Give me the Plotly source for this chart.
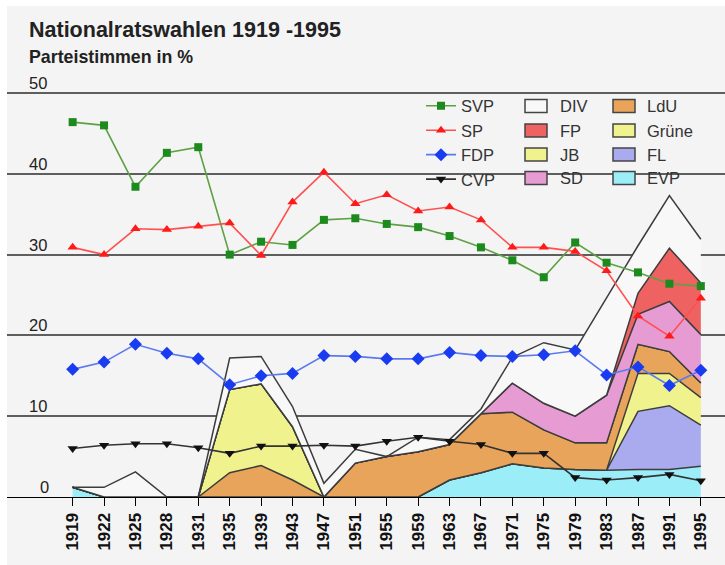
import plotly.graph_objects as go

# ---------------- data ----------------
years = ["1919", "1922", "1925", "1928", "1931", "1935", "1939", "1943", "1947", "1951",
         "1955", "1959", "1963", "1967", "1971", "1975", "1979", "1983", "1987", "1991", "1995"]

svp = [46.4, 46.0, 38.4, 42.6, 43.3, 30.0, 31.6, 31.2, 34.3, 34.5, 33.8, 33.4, 32.3, 30.9,
       29.3, 27.2, 31.5, 29.0, 27.8, 26.4, 26.1]
sp = [30.9, 30.0, 33.2, 33.1, 33.5, 33.9, 29.9, 36.5, 40.2, 36.3, 37.4, 35.4, 35.9, 34.3,
      30.9, 30.9, 30.4, 28.0, 22.4, 19.9, 24.6]
fdp = [15.8, 16.7, 18.9, 17.8, 17.1, 13.9, 15.0, 15.3, 17.5, 17.4, 17.1, 17.1, 17.9, 17.5,
       17.4, 17.6, 18.1, 15.1, 16.1, 13.8, 15.7]
cvp = [6.0, 6.4, 6.6, 6.6, 6.1, 5.4, 6.3, 6.3, 6.4, 6.3, 6.9, 7.4, 6.9, 6.5,
       5.4, 5.4, 2.4, 2.1, 2.4, 2.8, 2.0]

# stacked areas (bottom to top)
evp = [1.2, 0, 0, 0, 0, 0, 0, 0, 0, 0, 0, 0, 2.1, 3.0, 4.1, 3.6, 3.4, 3.3, 3.4, 3.4, 3.8]
fl = [0, 0, 0, 0, 0, 0, 0, 0, 0, 0, 0, 0, 0, 0, 0, 0, 0, 0, 7.2, 7.9, 5.1]
gruene = [0, 0, 0, 0, 0, 0, 0, 0, 0, 0, 0, 0, 0, 0, 0, 0, 0, 0, 4.7, 4.0, 3.4]
ldu = [0, 0, 0, 0, 0, 3.0, 3.9, 2.1, 0, 4.2, 5.0, 5.6, 4.4, 7.3, 6.4, 4.7, 3.3, 3.4, 3.6, 2.7, 1.8]
jb = [0, 0, 0, 0, 0, 10.3, 10.1, 6.6, 0, 0, 0, 0, 0, 0, 0, 0, 0, 0, 0, 0, 0]
sd = [0, 0, 0, 0, 0, 0, 0, 0, 0, 0, 0, 0, 0, 0, 3.6, 3.3, 3.3, 5.9, 3.7, 6.2, 6.0]
fp = [0, 0, 0, 0, 0, 0, 0, 0, 0, 0, 0, 0, 0, 0, 0, 0, 0, 0, 2.6, 6.6, 6.4]
div = [0, 1.2, 3.1, 0, 0, 3.9, 3.4, 2.5, 1.7, 1.7, 0, 1.8, 0.6, 0.6, 3.2, 7.5, 8.2, 12.0, 5.9, 6.5, 5.4]

y_ticks = [0, 10, 20, 30, 40, 50]
title_text = "Nationalratswahlen 1919 -1995"
subtitle_text = "Parteistimmen in %"

# ---------------- layout geometry ----------------
W, H = 725, 565
ML, MR, MT, MB = 7, 0, 89, 68
PW, PH = W - ML - MR, H - MT - MB
BG = "#f4f4f4"
FONT = "Liberation Sans, Arial, sans-serif"
OUTLINE = "#3c3c3c"


def px_x(px):
    return (px - ML) / PW


def px_y(py):
    return (H - MB - py) / PH


fig = go.Figure()

areas = [
    ("EVP", evp, "#9bedf8"),
    ("FL", fl, "#aaaaee"),
    ("Grüne", gruene, "#f0f28e"),
    ("LdU", ldu, "#e8a45a"),
    ("JB", jb, "#f0f28e"),
    ("SD", sd, "#e69bd2"),
    ("FP", fp, "#ee6262"),
    ("DIV", div, "#f8f8f8"),
]
for name, vals, col in areas:
    fig.add_trace(go.Scatter(
        x=years, y=vals, name=name, stackgroup="div", mode="lines",
        line=dict(color=OUTLINE, width=1.5), fillcolor=col,
        showlegend=False, hoverinfo="x+y+name",
    ))

lines = [
    ("SVP", svp, "#1c8a1c", "#5ea145", "square", 8),
    ("SP", sp, "#ff1a1a", "#ff5050", "triangle-up", 9),
    ("FDP", fdp, "#1a3cf0", "#5c7af0", "diamond", 10),
    ("CVP", cvp, "#111111", "#333333", "triangle-down", 9),
]
for name, vals, mcol, lcol, sym, sz in lines:
    fig.add_trace(go.Scatter(
        x=years, y=vals, name=name, mode="lines+markers",
        line=dict(color=lcol, width=1.6),
        marker=dict(symbol=sym, size=sz, color=mcol, line=dict(width=0)),
        showlegend=True,
    ))

# ---------------- legend boxes for areas (manual) ----------------
legend_boxes = [
    ("DIV", "#f8f8f8", 525, 558, 106),
    ("FP", "#ee6262", 525, 558, 130.5),
    ("JB", "#f0f28e", 525, 558, 154.5),
    ("SD", "#e69bd2", 525, 558, 178),
    ("LdU", "#e8a45a", 613, 645, 106),
    ("Grüne", "#f0f28e", 613, 645, 130.5),
    ("FL", "#aaaaee", 613, 645, 154.5),
    ("EVP", "#9bedf8", 613, 645, 178),
]
shapes = []
annotations = []

# white border of the original picture
shapes.append(dict(type="rect", xref="paper", yref="paper", layer="below",
                   x0=px_x(0), x1=px_x(ML), y0=px_y(H), y1=px_y(0),
                   fillcolor="white", line=dict(width=0)))
shapes.append(dict(type="rect", xref="paper", yref="paper", layer="below",
                   x0=px_x(0), x1=px_x(W), y0=px_y(6), y1=px_y(0),
                   fillcolor="white", line=dict(width=0)))

# legend background hiding the 40 grid line
shapes.append(dict(type="rect", xref="paper", yref="paper", layer="between",
                   x0=px_x(418), x1=px_x(697), y0=px_y(183), y1=px_y(165),
                   fillcolor=BG, line=dict(width=0)))

for name, col, bx, tx, cy in legend_boxes:
    shapes.append(dict(type="rect", xref="paper", yref="paper", layer="above",
                       x0=px_x(bx), x1=px_x(bx + 22), y0=px_y(cy + 6.5), y1=px_y(cy - 6.5),
                       fillcolor=col, line=dict(color="#444444", width=1.5)))
    annotations.append(dict(text=name, xref="paper", yref="paper", x=px_x(tx), y=px_y(cy),
                            xanchor="left", yanchor="middle", showarrow=False,
                            font=dict(family=FONT, size=16.5, color="#333333")))

# titles
annotations.append(dict(text="<b>" + title_text + "</b>", xref="paper", yref="paper",
                        x=px_x(27), y=px_y(30), xanchor="left", yanchor="middle", showarrow=False,
                        font=dict(family=FONT, size=21.5, color="#222222")))
annotations.append(dict(text="<b>" + subtitle_text + "</b>", xref="paper", yref="paper",
                        x=px_x(27), y=px_y(56.5), xanchor="left", yanchor="middle", showarrow=False,
                        font=dict(family=FONT, size=17.8, color="#222222")))

# y tick labels above grid lines
for v in y_ticks:
    annotations.append(dict(text=str(v), xref="paper", yref="y",
                            x=px_x(51 if v == 0 else 48.5), y=v, yshift=10,
                            xanchor="right", yanchor="middle", showarrow=False,
                            font=dict(family=FONT, size=16.5, color="#222222")))

fig.update_layout(
    width=W, height=H,
    margin=dict(l=ML, r=MR, t=MT, b=MB, autoexpand=False),
    paper_bgcolor=BG, plot_bgcolor=BG,
    font=dict(family=FONT, color="#222222"),
    showlegend=True,
    legend=dict(
        x=px_x(421), xanchor="left", y=px_y(88.5), yanchor="top",
        bgcolor="rgba(0,0,0,0)", borderwidth=0, itemwidth=30,
        font=dict(family=FONT, size=16.5, color="#333333"),
        traceorder="normal",
    ),
    xaxis=dict(
        type="category", range=[-2.09, 20.77],
        showgrid=False, zeroline=False,
        showline=True, linecolor="#000000", linewidth=1,
        ticks="outside", ticklen=8, tickcolor="#000000", tickwidth=1,
        tickangle=-90,
        tickfont=dict(family=FONT, size=17, color="#111111", weight="bold"),
        fixedrange=True,
    ),
    yaxis=dict(
        range=[0, 50.5], tickvals=y_ticks[1:], showticklabels=False,
        showgrid=True, gridcolor="#5e5e5e", gridwidth=2,
        zeroline=False, showline=False, ticks="",
        fixedrange=True,
    ),
    shapes=shapes,
    annotations=annotations,
)

fig.write_html(
    "out.html",
    config={"displayModeBar": False},
    post_script="document.body.style.margin='0';document.body.style.overflow='hidden';",
)
